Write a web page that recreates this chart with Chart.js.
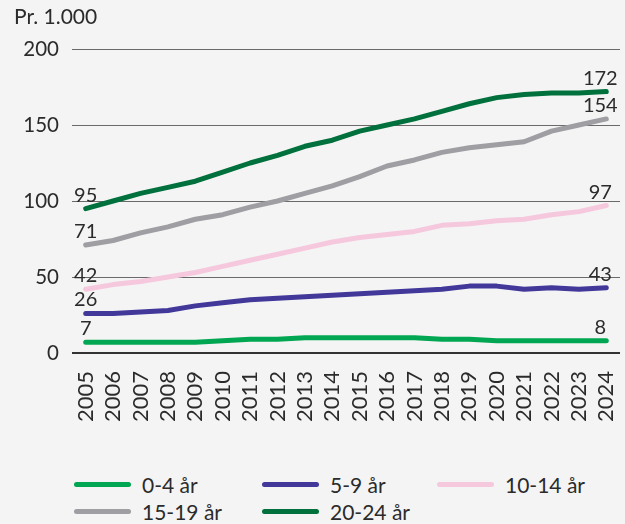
<!DOCTYPE html>
<html>
<head>
<meta charset="utf-8">
<script src="https://cdn.jsdelivr.net/npm/chart.js@4.4.1/dist/chart.umd.min.js"></script>
<style>
  body { margin: 0; background: #f4f4f4; font-family: Lato, sans-serif; color: #2b2b2b; }
  #wrap { position: relative; width: 625px; height: 524px; }
  #chart { position: absolute; left: 0; top: 0; }
  #unit { position: absolute; left: 14px; top: 3px; font-size: 21px; }
  #legend { position: absolute; left: 74px; top: 471px; display: grid; grid-template-columns: 188px 175px 160px; }
  .item { display: flex; align-items: center; height: 27px; font-size: 21px; white-space: nowrap; }
  .swatch { width: 57px; height: 5px; border-radius: 3px; margin-right: 11px; }
</style>
</head>
<body>
<div id="wrap">
  <canvas id="chart" width="625" height="440"></canvas>
  <div id="unit">Pr. 1.000</div>
  <div id="legend"></div>
</div>
<script>
var years = ['2005', '2006', '2007', '2008', '2009', '2010', '2011', '2012', '2013', '2014',
             '2015', '2016', '2017', '2018', '2019', '2020', '2021', '2022', '2023', '2024'];

var ageGroups = ['0-4 år', '5-9 år', '10-14 år', '15-19 år', '20-24 år'];
var groupColors = ['#00a651', '#41389a', '#f5c8dd', '#9e9ea3', '#00713d'];

// population per age group, in thousands
var age0to4   = [7, 7, 7, 7, 7, 8, 9, 9, 10, 10, 10, 10, 10, 9, 9, 8, 8, 8, 8, 8];
var age5to9   = [26, 26, 27, 28, 31, 33, 35, 36, 37, 38, 39, 40, 41, 42, 44, 44, 42, 43, 42, 43];
var age10to14 = [42, 45, 47, 50, 53, 57, 61, 65, 69, 73, 76, 78, 80, 84, 85, 87, 88, 91, 93, 97];
var age15to19 = [71, 74, 79, 83, 88, 91, 96, 100, 105, 110, 116, 123, 127, 132, 135, 137, 139, 146, 150, 154];
var age20to24 = [95, 100, 105, 109, 113, 119, 125, 130, 136, 140, 146, 150, 154, 159, 164, 168, 170, 171, 171, 172];

var yTicks = [0, 50, 100, 150, 200];

var series = [age0to4, age5to9, age10to14, age15to19, age20to24];

// writes first and last value next to each line
var endLabels = {
    id: 'endLabels',
    afterDatasetsDraw: function(chart) {
        var ctx = chart.ctx;
        ctx.save();
        ctx.font = '20px Lato';
        ctx.fillStyle = '#2b2b2b';
        ctx.textAlign = 'center';
        ctx.textBaseline = 'alphabetic';
        chart.data.datasets.forEach(function(ds, i) {
            var pts = chart.getDatasetMeta(i).data;
            var first = pts[0];
            var last = pts[pts.length - 1];
            ctx.fillText(ds.data[0], first.x, first.y - 7);
            ctx.fillText(ds.data[ds.data.length - 1], last.x - 6, last.y - 7);
        });
        ctx.restore();
    }
};

var datasets = ageGroups.map(function(name, i) {
    return {
        label: name,
        data: series[i],
        borderColor: groupColors[i],
        backgroundColor: groupColors[i],
        borderWidth: 5,
        borderCapStyle: 'round',
        borderJoinStyle: 'round',
        pointRadius: 0,
        tension: 0
    };
});

var ctx = document.getElementById('chart').getContext('2d');
var chart = new Chart(ctx, {
    type: 'line',
    data: { labels: years, datasets: datasets },
    options: {
        responsive: false,
        animation: false,
        devicePixelRatio: 1,
        layout: { padding: { top: 49, right: 5, left: 0, bottom: 0 } },
        plugins: {
            legend: { display: false },
            tooltip: { enabled: false }
        },
        scales: {
            x: {
                offset: true,
                grid: { display: false, drawTicks: false },
                border: { display: false },
                ticks: {
                    autoSkip: false,
                    minRotation: 90,
                    maxRotation: 90,
                    padding: 18,
                    color: '#2b2b2b',
                    font: { family: 'Lato', size: 22 }
                },
                afterFit: function(scale) {
                    // rotated labels stay inside the plot, no side padding needed
                    scale.height = 87;
                    scale.paddingLeft = 0;
                    scale.paddingRight = 0;
                }
            },
            y: {
                min: yTicks[0],
                max: yTicks[yTicks.length - 1],
                afterBuildTicks: function(scale) {
                    scale.ticks = yTicks.map(function(v) { return { value: v }; });
                },
                ticks: {
                    padding: 13,
                    color: '#2b2b2b',
                    font: { family: 'Lato', size: 20.5 }
                },
                grid: {
                    drawTicks: false,
                    color: function(c) { return c.tick && c.tick.value === 0 ? '#333333' : '#6a6a6a'; },
                    lineWidth: function(c) { return c.tick && c.tick.value === 0 ? 2 : 1; }
                },
                border: { display: false },
                afterFit: function(scale) { scale.width = 72; }
            }
        }
    },
    plugins: [endLabels]
});

// legend below the chart, three columns
var legend = document.getElementById('legend');
chart.data.datasets.forEach(function(ds) {
    var item = document.createElement('div');
    item.className = 'item';
    var sw = document.createElement('span');
    sw.className = 'swatch';
    sw.style.background = ds.borderColor;
    item.appendChild(sw);
    item.appendChild(document.createTextNode(ds.label));
    legend.appendChild(item);
});
</script>
</body>
</html>
